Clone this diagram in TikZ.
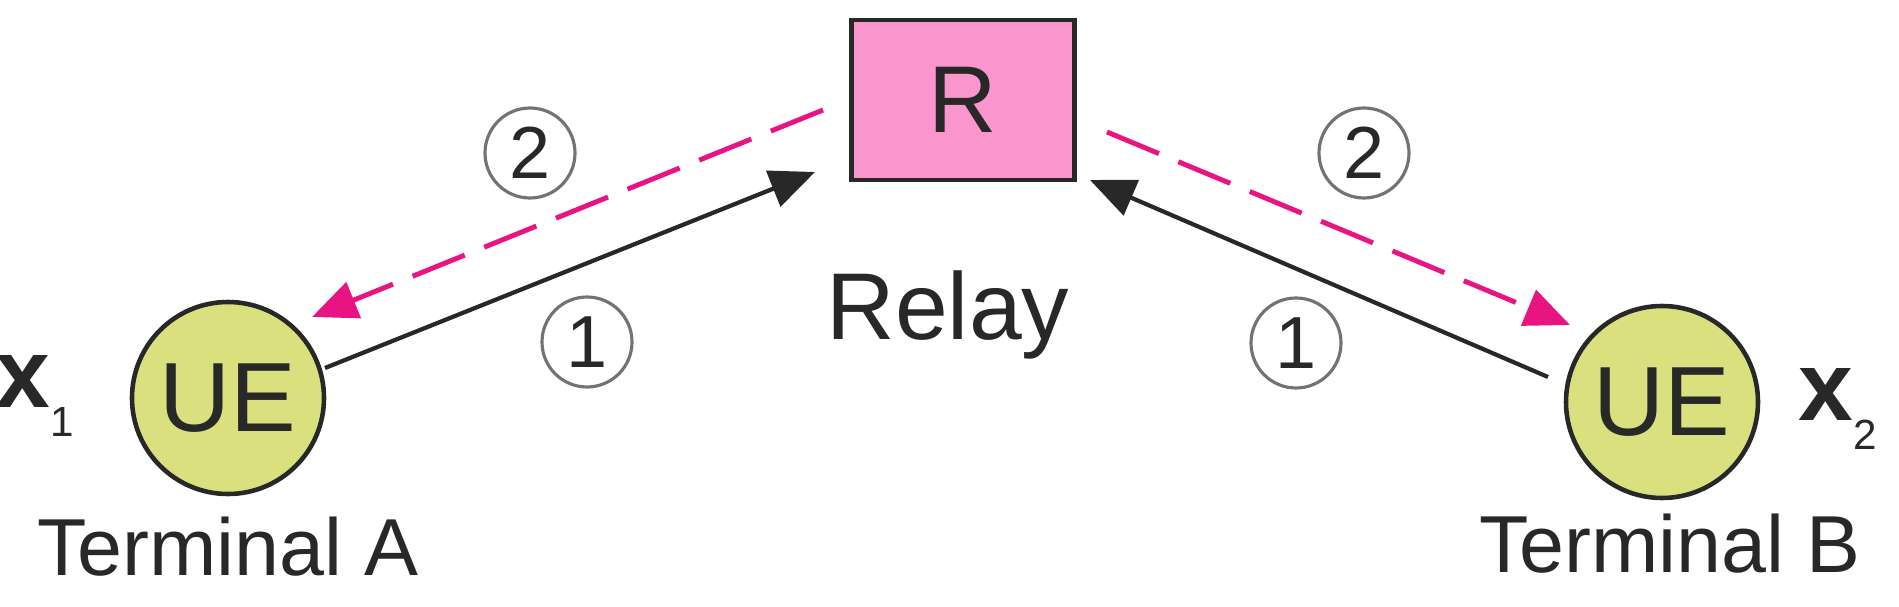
\documentclass[tikz,border=0pt]{standalone}
\usepackage{fontspec}
\setmainfont{Liberation Sans}
\usetikzlibrary{arrows.meta}
\definecolor{relaypink}{RGB}{250,150,205}
\definecolor{uegreen}{RGB}{218,224,125}
\definecolor{dashpink}{RGB}{232,20,130}
\definecolor{txt}{RGB}{40,40,40}
\begin{document}
\begin{tikzpicture}[
  ue/.style={circle,draw=txt,line width=1.3pt,fill=uegreen,minimum size=1.92cm,inner sep=0pt,font=\fontsize{28}{30}\selectfont,text=txt},
  num/.style={circle,draw=black!55,line width=0.9pt,minimum size=0.9cm,inner sep=0pt,font=\fontsize{21}{23}\selectfont,text=txt},
  lab/.style={font=\fontsize{23}{25}\selectfont,text=txt,anchor=base},
  xv/.style={font=\fontsize{28}{30}\selectfont\bfseries,text=txt},
  up/.style={-{Triangle[length=0.45cm,width=0.38cm]},line width=1.2pt,txt},
  down/.style={-{Triangle[length=0.45cm,width=0.38cm]},line width=1.4pt,dashpink,dash pattern=on 16pt off 6pt}]
\useasboundingbox (0,0) rectangle (18.99,6.06);
\node[draw=txt,line width=1.3pt,fill=relaypink,minimum width=2.23cm,minimum height=1.60cm,font=\fontsize{27}{29}\selectfont,text=txt] (R) at (9.63,5.06) {R};
\node[lab,font=\fontsize{27}{29}\selectfont] (relay) at (9.48,2.66) {Relay};
\node[ue] (A) at (2.28,2.08) {UE};
\node[ue] (B) at (16.62,2.04) {UE};
\node[xv,inner sep=0pt] (x1) at (0.35,2.10) {x\raisebox{-0.3em}{\fontsize{12}{13}\mdseries\selectfont 1}};
\node[xv,inner sep=0pt] (x2) at (18.38,1.97) {x\raisebox{-0.3em}{\fontsize{12}{13}\mdseries\selectfont 2}};
\node[lab] (tA) at (2.28,0.31) {Terminal A};
\node[lab] (tB) at (16.70,0.34) {Terminal B};
\coordinate (a1) at (3.25,2.38); \coordinate (a2) at (8.15,4.34);
\coordinate (b1) at (15.48,2.29); \coordinate (b2) at (10.90,4.26);
\coordinate (c1) at (8.23,4.96); \coordinate (c2) at (3.12,2.89);
\coordinate (d1) at (11.07,4.74); \coordinate (d2) at (15.70,2.81);
\draw[up] (a1) -- (a2);
\draw[up] (b1) -- (b2);
\draw[down] (c1) -- (c2);
\draw[down] (d1) -- (d2);
\node[num] (n2a) at (5.30,4.53) {2};
\node[num] (n2b) at (13.64,4.53) {2};
\node[num] (n1a) at (5.87,2.64) {1};
\node[num] (n1b) at (12.96,2.63) {1};
\end{tikzpicture}
\end{document}
